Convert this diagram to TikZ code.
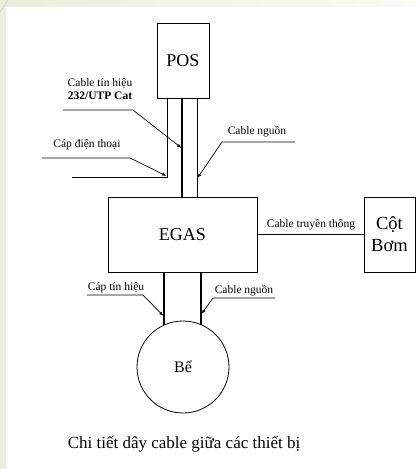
\documentclass[tikz,border=0pt]{standalone}
\usepackage{fontspec}
\setmainfont{Liberation Serif}
\usetikzlibrary{arrows.meta}
\definecolor{bggreen}{RGB}{233,239,220}
\definecolor{bgpale}{RGB}{250,251,244}
\definecolor{bgline}{RGB}{200,208,185}
\begin{document}
\begin{tikzpicture}[x=1pt,y=-1pt,
  box/.style={draw, line width=0.8pt, outer sep=0pt, inner sep=0pt},
  lbl/.style={font=\fontsize{11.5}{13}\selectfont, inner sep=0pt},
  wire/.style={line width=0.8pt},
  cable/.style={line width=1.3pt},
  lead/.style={line width=0.7pt, -{Latex[length=4.5pt,width=3.2pt]}},
]
\useasboundingbox (0,0) rectangle (417,469);
\fill[white] (0,0) rectangle (417,469);
\shade[left color=bggreen, right color=bgpale] (0,0) rectangle (417,6);
\fill[bggreen] (0,0) rectangle (6,469);
\draw[bgline, line width=0.5pt] (0,12) -- (8,0);

% boxes
\node (pos) [box, minimum width=52pt, minimum height=75pt, font=\fontsize{18}{20}\selectfont] at (183,60.5) {POS};
\node (egas) [box, minimum width=149pt, minimum height=75pt, font=\fontsize{18}{20}\selectfont] at (182.5,234.5) {EGAS};
\node (bom) [box, minimum width=51pt, minimum height=75pt, font=\fontsize{18.5}{22}\selectfont, align=center] at (389.5,234.5) {Cột\\Bơm};
\node (be) [draw, circle, line width=0.8pt, minimum size=92pt, inner sep=0pt, outer sep=0pt, font=\fontsize{16}{18}\selectfont] at (183,367) {Bể};

% x positions of cables
\coordinate (xl) at (167,0);
\coordinate (xm) at (182,0);
\coordinate (xr) at (197,0);
\coordinate (xa) at (164,0);
\coordinate (xb) at (201,0);

% POS - EGAS cables
\coordinate (pcorner) at (167,177);
\coordinate (pend) at (72,177);
\draw[wire] (xl |- pos.south) -- (pcorner) -- (pend);
\draw[cable] (xm |- pos.south) -- (xm |- egas.north);
\draw[wire] (xr |- pos.south) -- (xr |- egas.north);

% EGAS - Bể cables
\coordinate (ba) at (164,325.1);
\coordinate (bb) at (201,324.7);
\draw[cable] (xa |- egas.south) -- (ba);
\draw[cable] (xb |- egas.south) -- (bb);

% EGAS - Cột Bơm
\draw[wire] (egas.east |- 0,234) -- (bom.west |- 0,234);
\node[lbl] (ltt) at (311,225) {Cable truyền thông};

% labels
\node[lbl, align=center] (lsig) at (100,89) {Cable tín hiệu\\\textbf{232/UTP Cat}};
\node[lbl] (ltel) at (87,145) {Cáp điện thoại};
\node[lbl] (lng1) at (257,132) {Cable nguồn};
\node[lbl] (lsig2) at (116,288) {Cáp tín hiệu};
\node[lbl] (lng2) at (244,291) {Cable nguồn};

% leaders
\coordinate (s0) at (63,110);
\coordinate (s1) at (133,110);
\coordinate (s2) at (181.5,148);
\draw[lead] (s0) -- (s1) -- (s2);

\coordinate (t0) at (42,158);
\coordinate (t1) at (130,158);
\coordinate (t2) at (166.5,176);
\draw[lead] (t0) -- (t1) -- (t2);

\coordinate (n0) at (295,142);
\coordinate (n1) at (222,142);
\coordinate (n2) at (197.5,178);
\draw[lead] (n0) -- (n1) -- (n2);

\coordinate (c0) at (87,295);
\coordinate (c1) at (143,295);
\coordinate (c2) at (163.5,316);
\draw[lead] (c0) -- (c1) -- (c2);

\coordinate (d0) at (275,298);
\coordinate (d1) at (213,298);
\coordinate (d2) at (201.5,314);
\draw[lead] (d0) -- (d1) -- (d2);

% caption
\node[font=\fontsize{17}{20}\selectfont, inner sep=0pt] (cap) at (184,444) {Chi tiết dây cable giữa các thiết bị};
\end{tikzpicture}
\end{document}
